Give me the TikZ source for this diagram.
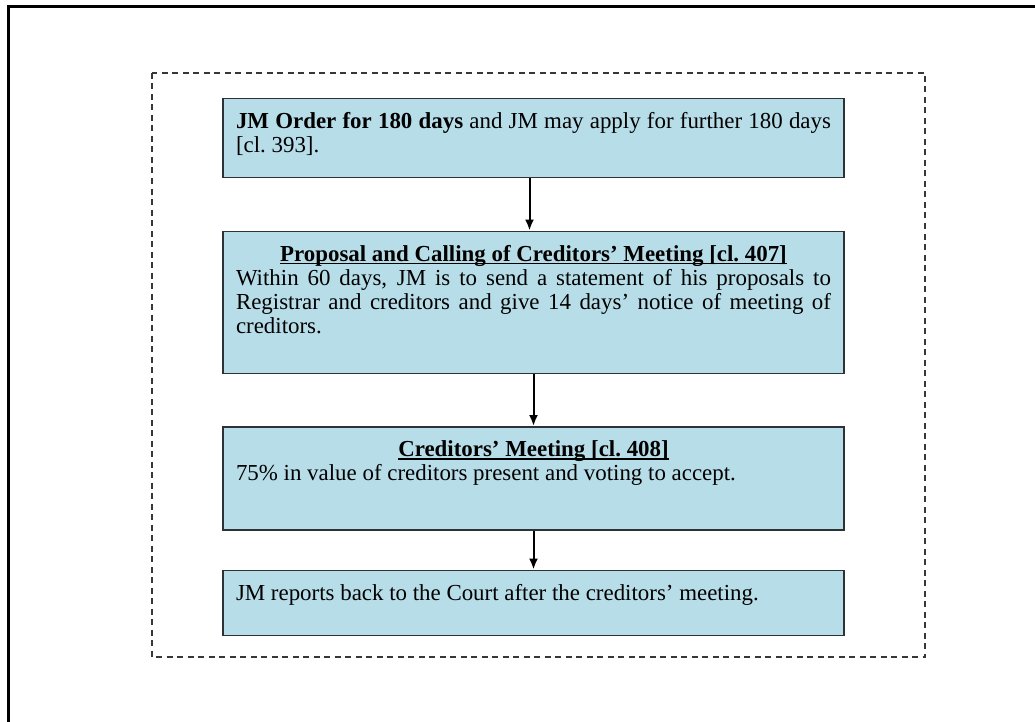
\documentclass[tikz,border=0pt]{standalone}
\usepackage{fontspec}
\setmainfont{Liberation Serif}
\usepackage{tikz}
\usetikzlibrary{arrows.meta, positioning}

\definecolor{boxfill}{RGB}{183,221,232}
\definecolor{boxline}{RGB}{45,50,55}
\definecolor{dashline}{RGB}{55,55,55}

% fixed-height text block, top aligned
\newcommand{\stagetext}[2]{\parbox[c][#1][t]{595pt}{\hyphenpenalty=10000 \exhyphenpenalty=10000 #2}}
\newcommand{\headline}[1]{\setbox0\hbox{\textbf{#1}}\rlap{\rule[-3pt]{\wd0}{1.2pt}}\box0}
\newcommand{\stagehead}[1]{{\centering\strut\headline{#1}\par}}

\begin{document}
\begin{tikzpicture}[x=1pt, y=-1pt,
    stagebox/.style={rectangle, draw=boxline, fill=boxfill, line width=1.5pt,
        inner xsep=13pt, inner ysep=13pt, font=\fontsize{22.9}{24}\selectfont},
    flow/.style={-{Latex[length=11pt, width=9pt]}, line width=2pt},
    dashframe/.style={dashed, dash pattern=on 6pt off 4.5pt, draw=dashline, line width=1.8pt}]

    \useasboundingbox (0,0) rectangle (1035,722);
    \draw [line width=3pt] (8,7) rectangle (1045,735);
    \draw [dashframe] (152,73) rectangle (925,657);

    \node [stagebox, anchor=north] (order) at (533.5,98)
        {\stagetext{53pt}{\strut\textbf{JM Order for 180 days} and JM may apply for further 180 days [cl.~393].}};
    \node [stagebox, below=52pt of order] (proposal)
        {\stagetext{116pt}{\stagehead{Proposal and Calling of Creditors’ Meeting [cl.~407]}
        Within 60 days, JM is to send a statement of his proposals to Registrar and creditors and give 14 days’ notice of meeting of creditors.}};
    \node [stagebox, below=52pt of proposal] (meeting)
        {\stagetext{77pt}{\stagehead{Creditors’ Meeting [cl.~408]}
        75\% in value of creditors present and voting to accept.}};
    \node [stagebox, below=39pt of meeting] (report)
        {\stagetext{39pt}{\strut JM reports back to the Court after the creditors’ meeting.}};

    \draw [flow] ([xshift=-4pt]order.south) -- ([xshift=-4pt]proposal.north);
    \draw [flow] (proposal) -- (meeting);
    \draw [flow] (meeting) -- (report);
\end{tikzpicture}
\end{document}
